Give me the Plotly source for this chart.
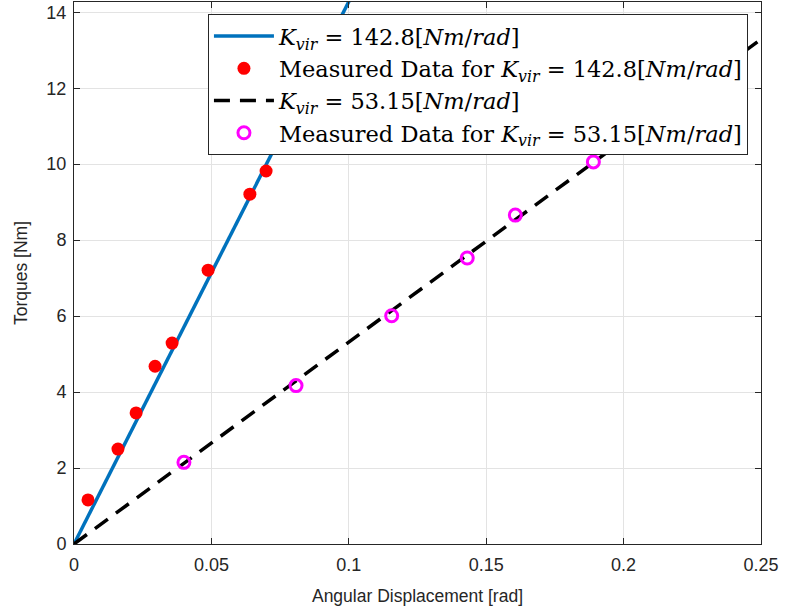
import plotly.graph_objects as go

K_high = 142.8
K_low = 53.15
x_line = [0.0, 0.25]

x_meas_high = [0.0051, 0.0160, 0.0226, 0.0295, 0.0357, 0.0488, 0.0640, 0.0699]
y_meas_high = [1.16, 2.50, 3.45, 4.68, 5.29, 7.21, 9.21, 9.82]

x_meas_low = [0.0400, 0.0808, 0.1156, 0.1431, 0.1606, 0.1890]
y_meas_low = [2.15, 4.17, 6.01, 7.53, 8.66, 10.06]

x_ticks = [0, 0.05, 0.1, 0.15, 0.2, 0.25]
x_tick_text = ["0", "0.05", "0.1", "0.15", "0.2", "0.25"]
y_ticks = [0, 2, 4, 6, 8, 10, 12, 14]

lab_high = "<i>K</i><sub><i>vir</i></sub> = 142.8[<i>Nm</i>/<i>rad</i>]"
lab_low = "<i>K</i><sub><i>vir</i></sub> = 53.15[<i>Nm</i>/<i>rad</i>]"

SANS = "Liberation Sans, Arial"

fig = go.Figure()
fig.add_trace(go.Scatter(
    x=x_line, y=[K_high * v for v in x_line], mode="lines",
    line=dict(color="#0072BD", width=3.5), name=lab_high))
fig.add_trace(go.Scatter(
    x=x_meas_high, y=y_meas_high, mode="markers",
    marker=dict(color="#FF0000", size=13, line=dict(width=0)),
    name="Measured Data for " + lab_high))
fig.add_trace(go.Scatter(
    x=x_line, y=[K_low * v for v in x_line], mode="lines",
    line=dict(color="#000000", width=3.5, dash="16px,10px"), name=lab_low))
fig.add_trace(go.Scatter(
    x=x_meas_low, y=y_meas_low, mode="markers",
    marker=dict(color="#FF00FF", size=12, symbol="circle-open",
                line=dict(color="#FF00FF", width=3)),
    name="Measured Data for " + lab_low))

axis_common = dict(
    showline=True, linecolor="#262626", linewidth=1, mirror="ticks",
    ticks="inside", ticklen=6, tickcolor="#262626",
    showgrid=True, gridcolor="#e3e3e3", gridwidth=1, zeroline=False,
    tickfont=dict(family=SANS, size=18, color="#262626"),
)

fig.update_xaxes(range=[0, 0.25], tickvals=x_ticks, ticktext=x_tick_text,
                 ticklabelstandoff=4,
                 title=dict(text="Angular Displacement [rad]", standoff=16,
                            font=dict(family=SANS, size=17.5, color="#262626")),
                 **axis_common)
fig.update_yaxes(range=[0, 14.27], tickvals=y_ticks, ticklabelstandoff=3,
                 title=dict(text="Torques [Nm]", standoff=14,
                            font=dict(family=SANS, size=17.5, color="#262626")),
                 **axis_common)

fig.update_layout(
    width=786, height=615,
    margin=dict(l=74, r=25, t=2, b=71),
    plot_bgcolor="white", paper_bgcolor="white",
    legend=dict(x=0.981, y=0.978, xanchor="right", yanchor="top",
                bgcolor="white", bordercolor="#262626", borderwidth=1,
                font=dict(family="DejaVu Serif, serif", size=22.5, color="#000000"),
                itemwidth=60, tracegroupgap=0),
    showlegend=True,
)

fig.write_html("out.html")
